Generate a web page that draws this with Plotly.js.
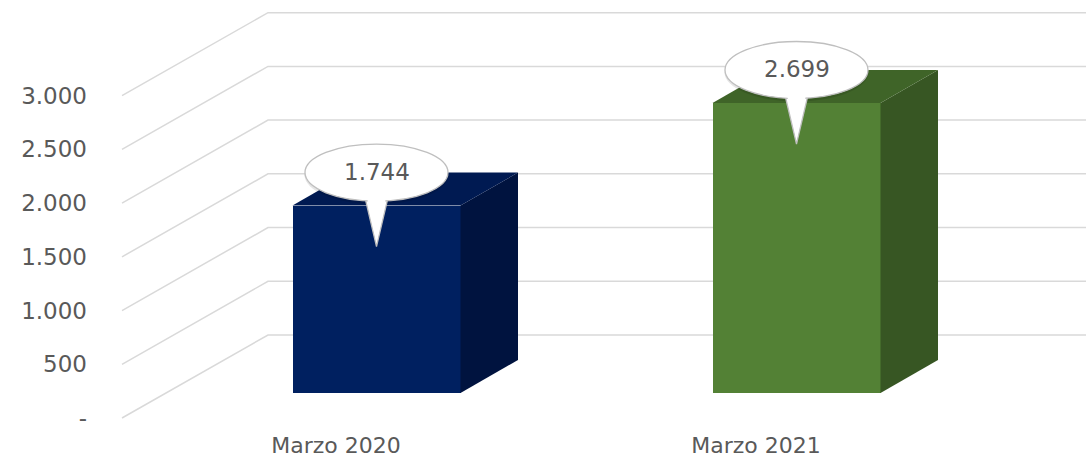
<!DOCTYPE html>
<html><head><meta charset="utf-8">
<script src="https://cdn.plot.ly/plotly-3.0.1.min.js"></script>
<style>html,body{margin:0;padding:0;background:#fff}#chart{width:1086px;height:459px}</style>
</head><body><div id="chart"></div>
<script>
// ---- data ----
const categories = ['Marzo 2020', 'Marzo 2021'];
const values = [1744, 2699];
const yTickVals = [0, 500, 1000, 1500, 2000, 2500, 3000];
const yTickText = ['-', '500', '1.000', '1.500', '2.000', '2.500', '3.000'];

// ---- styles ----
const frontColors = ['#002060', '#538135'];
const topColors = ['#001a52', '#3f6428'];
const sideColors = ['#00133f', '#375623'];
const textColor = '#595959';
const gridColor = '#d9d9d9';
const FONT = 'DejaVu Sans';

// ---- geometry (pixel scale of the oblique projection) ----
const W = 1086, H = 459;
const ML = 100, MB = 30;
const PX_X = 420;      // px per category step
const PX_Y = 0.10744;  // px per value unit
const CAT0_PX = 336;   // px of category 0 on the front plane
const ZERO_PX = 418;   // px of value 0 on the front plane
const xRange = [(ML - CAT0_PX) / PX_X, (W - CAT0_PX) / PX_X];
const yRange = [(ZERO_PX - (H - MB)) / PX_Y, ZERO_PX / PX_Y];
const dX = px => px / PX_X;
const dY = px => px / PX_Y;
const wallDepth = [146, 83];
const barFront = [40.5, 25];
const barDepth = [57.5, 33];
const barWidth = 0.4;
const wallLeft = (122 - CAT0_PX) / PX_X;

function fmt(v) { return String(v).replace(/\B(?=(\d{3})+(?!\d))/g, '.'); }

const traces = [];
const shapes = [], annotations = [];

// side wall / back wall gridlines (below the bars)
yTickVals.forEach(t => {
  const xb = wallLeft + dX(wallDepth[0]), yb = t + dY(wallDepth[1]);
  shapes.push({type: 'path', xref: 'x', yref: 'y', layer: 'below',
    path: `M ${wallLeft},${t} L ${xb},${yb} L ${xRange[1] + 0.2},${yb}`,
    line: {color: gridColor, width: 1.5}});
});

const base = dY(barFront[1]);
const bx = categories.map((c, i) => i + dX(barFront[0]));

// top and side faces
values.forEach((v, i) => {
  const xl = bx[i] - barWidth / 2, xrr = bx[i] + barWidth / 2;
  const ddx = dX(barDepth[0]), ddy = dY(barDepth[1]);
  traces.push({type: 'scatter', mode: 'lines', fill: 'toself',
    x: [xrr, xrr, xrr + ddx, xrr + ddx, xrr],
    y: [base, base + v, base + v + ddy, base + ddy, base],
    line: {width: 0, color: sideColors[i]}, fillcolor: sideColors[i],
    hoverinfo: 'skip', showlegend: false});
  traces.push({type: 'scatter', mode: 'lines', fill: 'toself',
    x: [xl, xrr, xrr + ddx, xl + ddx, xl],
    y: [base + v, base + v, base + v + ddy, base + v + ddy, base + v],
    line: {width: 0, color: topColors[i]}, fillcolor: topColors[i],
    hoverinfo: 'skip', showlegend: false});
});

// front faces
traces.push({type: 'bar', x: bx, y: values, base: base, width: barWidth,
  marker: {color: frontColors, line: {width: 0}}, hoverinfo: 'skip', showlegend: false});

// callouts
values.forEach((v, i) => {
  const common = {xref: 'x', yref: 'y', xsizemode: 'pixel', ysizemode: 'pixel',
    xanchor: bx[i], yanchor: base + v, layer: 'above'};
  shapes.push(Object.assign({type: 'circle', x0: -72, x1: 72, y0: 33 - 29 - 2.5, y1: 33 + 29 - 2.5,
    fillcolor: 'rgba(0,0,0,0.10)', line: {width: 0}}, common));
  shapes.push(Object.assign({type: 'path', path: 'M -12,10 L 0,-41 L 12,10 Z',
    fillcolor: '#ffffff', line: {color: '#bfbfbf', width: 1.3}}, common));
  shapes.push(Object.assign({type: 'circle', x0: -71.5, x1: 71.5, y0: 33 - 28.5, y1: 33 + 28.5,
    fillcolor: '#ffffff', line: {color: '#bfbfbf', width: 1.3}}, common));
  shapes.push(Object.assign({type: 'path', path: 'M -10.3,12 L 0,-37 L 10.3,12 Z',
    fillcolor: '#ffffff', line: {width: 0}}, common));
  annotations.push({xref: 'x', yref: 'y', x: bx[i], y: base + v, yshift: 34,
    text: fmt(v), showarrow: false, font: {family: FONT, size: 23, color: textColor}});
});

const layout = {
  width: W, height: H,
  margin: {l: ML, r: 0, t: 0, b: MB, pad: 0},
  paper_bgcolor: '#ffffff', plot_bgcolor: '#ffffff',
  showlegend: false, hovermode: false, bargap: 0,
  xaxis: {range: xRange, tickvals: [0, 1], ticktext: categories, showgrid: false,
    zeroline: false, showline: false, ticks: '', ticklabelstandoff: 1, fixedrange: true,
    tickfont: {family: FONT, size: 22, color: textColor}},
  yaxis: {range: yRange, tickvals: yTickVals, ticktext: yTickText, showgrid: false,
    zeroline: false, showline: false, ticks: '', ticklabelstandoff: 12, fixedrange: true,
    tickfont: {family: FONT, size: 23, color: textColor}},
  shapes: shapes, annotations: annotations
};

Plotly.newPlot('chart', traces, layout, {staticPlot: true, displayModeBar: false});
</script>
</body></html>
